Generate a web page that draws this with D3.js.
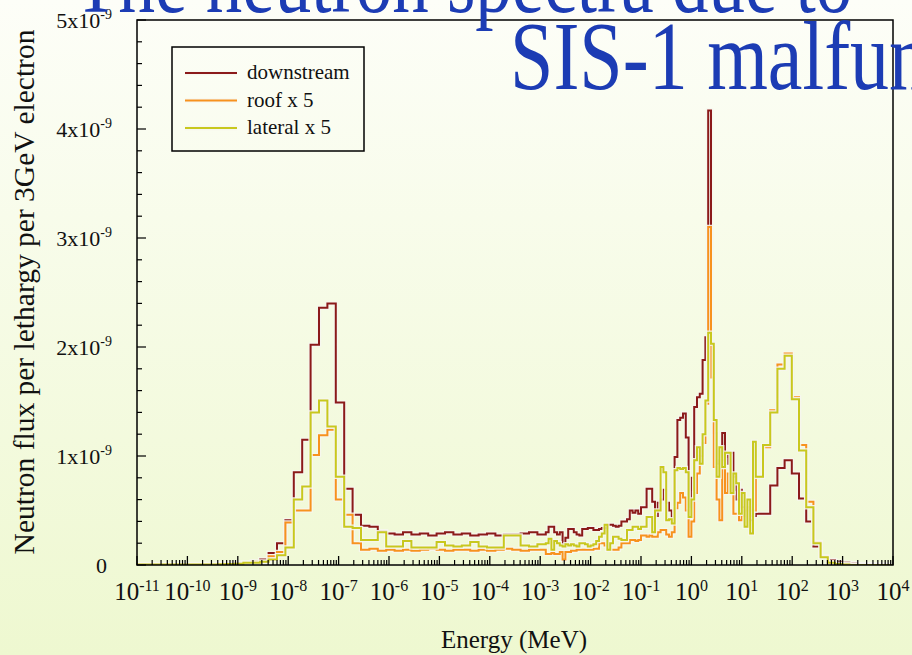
<!DOCTYPE html>
<html>
<head>
<meta charset="utf-8">
<title>Neutron spectra</title>
<script src="https://cdn.jsdelivr.net/npm/d3@7"></script>
<style>
  body { margin: 0; }
  svg { display: block; font-family: "Liberation Serif", "Times New Roman", serif; }
</style>
</head>
<body>
<svg id="chart" width="912" height="655"></svg>
<script>
// energy bins, log10(E/MeV). first low bin starts at -11
var lowStart = -10.889, lowStep = 1 / 6;
var fineStart = -2.889, fineStep = 1 / 18;
var highStart = 1.278, highStep = 1 / 7;

// flux per lethargy, units of 1e-9
var downLow = [0.01, 0.01,0.01,0.01,0.01,0.01,0.01,0.01,0.01, 0.01,0.015,0.015,0.02,
  0.02,0.03,0.05,0.11,0.20,0.41,0.85,1.15,2.02,2.36,2.40,1.49,0.70,0.46,0.36,0.35,0.31,
  0.29,0.28,0.30,0.28,0.29,0.27,0.29,0.30,0.28,0.29,0.27,0.28,0.29,0.27,0.28,0.28,0.29,0.30,0.28];
var roofLow = [0.005, 0.005,0.005,0.005,0.005,0.005,0.005,0.005,0.005, 0.005,0.008,0.01,0.015,
  0.02,0.03,0.03,0.08,0.12,0.39,0.50,0.50,1.01,1.19,1.24,0.60,0.46,0.20,0.14,0.15,0.13,
  0.14,0.13,0.14,0.13,0.14,0.15,0.14,0.13,0.14,0.14,0.13,0.14,0.13,0.14,0.15,0.14,0.13,0.14,0.14];
var latLow = [0.005, 0.005,0.005,0.005,0.005,0.005,0.005,0.005,0.005, 0.005,0.008,0.01,0.012,
  0.02,0.02,0.03,0.05,0.09,0.16,0.60,0.72,1.40,1.51,1.27,0.81,0.35,0.34,0.23,0.23,0.30,
  0.17,0.17,0.22,0.16,0.16,0.16,0.21,0.18,0.17,0.18,0.21,0.17,0.16,0.16,0.27,0.27,0.18,0.17,0.19];

var downFine = [0.30,0.35,0.35,0.30,0.28,0.30,0.20,0.25,0.33,0.33,
  0.30,0.28,0.27,0.33,0.33,0.34,0.34,0.32,0.32,0.33,
  0.34,0.34,0.37,0.37,0.36,0.35,0.36,0.40,0.40,0.42,
  0.50,0.48,0.50,0.47,0.53,0.53,0.70,0.70,0.58,0.45,
  0.57,0.60,0.69,0.57,0.50,0.44,0.99,1.33,1.35,1.39,
  1.17,0.50,0.80,1.45,1.54,1.57,1.88,2.09,4.17,2.00,
  1.21,0.93,0.96,1.21,0.93,1.03,1.03,0.81,0.60,0.69,
  0.53,0.44,0.50,0.41,0.45];
var roofFine = [0.10,0.10,0.11,0.10,0.10,0.12,0.05,0.12,0.12,0.13,
  0.13,0.14,0.14,0.14,0.14,0.14,0.14,0.15,0.15,0.20,
  0.20,0.18,0.14,0.14,0.14,0.14,0.16,0.20,0.20,0.20,
  0.23,0.23,0.22,0.23,0.27,0.27,0.26,0.27,0.26,0.26,
  0.30,0.32,0.32,0.28,0.26,0.30,0.52,0.57,0.66,0.62,
  0.50,0.26,0.40,0.66,0.84,1.00,1.12,1.48,3.10,1.72,
  0.90,0.60,0.41,0.96,0.66,0.84,0.66,0.47,0.47,0.41,
  0.45,0.50,0.53,0.45,0.50];
var latFine = [0.20,0.24,0.14,0.22,0.20,0.18,0.17,0.19,0.18,0.19,
  0.18,0.17,0.20,0.20,0.19,0.17,0.18,0.19,0.22,0.26,
  0.29,0.37,0.14,0.20,0.26,0.26,0.24,0.23,0.23,0.32,
  0.32,0.35,0.35,0.33,0.35,0.35,0.44,0.44,0.30,0.50,
  0.50,0.90,0.85,0.41,0.42,0.38,0.87,0.89,0.88,0.89,
  0.85,0.44,0.60,0.96,1.08,0.93,1.20,1.51,2.13,2.03,
  1.33,0.81,1.08,0.90,1.03,1.03,0.66,0.84,0.75,0.47,
  0.66,0.35,0.60,0.29,1.13];

var downHigh = [0.47,0.47,0.73,0.89,0.96,0.84,0.61,0.40,0.17,0.076,0.046,0.03,0.02,0.015,0.01,0.01,0.005,0.005,0.005];
var roofHigh = [0.81,1.08,1.42,1.84,1.94,1.54,1.10,0.58,0.21,0.076,0.03,0.01,0.005,0.005,0,0,0,0,0];
var latHigh  = [0.81,1.10,1.40,1.80,1.92,1.52,1.05,0.53,0.20,0.07,0.02,0.01,0.005,0,0,0,0,0,0];

var seriesNames = ["downstream", "roof x 5", "lateral x 5"];
var seriesColors = ["#8b1a1a", "#f7921e", "#c8c81e"];
var xTickExp = [-11,-10,-9,-8,-7,-6,-5,-4,-3,-2,-1,0,1,2,3,4];
var yTickVals = [0, 1, 2, 3, 4, 5];

function bins(low, fine, high) {
  var out = [{e: -11, v: low[0]}];
  for (var i = 1; i < low.length; i++) out.push({e: lowStart + (i - 1) * lowStep, v: low[i]});
  fine.forEach(function(v, i) { out.push({e: fineStart + i * fineStep, v: v}); });
  high.forEach(function(v, i) { out.push({e: highStart + i * highStep, v: v}); });
  out.push({e: 4, v: high[high.length - 1]});
  return out;
}
var series = [bins(downLow, downFine, downHigh), bins(roofLow, roofFine, roofHigh), bins(latLow, latFine, latHigh)];

var svg = d3.select("#chart");
var L = 137, R = 893, T = 20, B = 565;

var defs = svg.append("defs");
var grad = defs.append("linearGradient").attr("id", "bg").attr("x1", 0).attr("y1", 0).attr("x2", 0).attr("y2", 1);
grad.append("stop").attr("offset", "0%").attr("stop-color", "#fdfef8");
grad.append("stop").attr("offset", "100%").attr("stop-color", "#eef8d0");
defs.append("clipPath").attr("id", "plot").append("rect")
  .attr("x", L).attr("y", T - 2).attr("width", R - L).attr("height", B - T + 2);

svg.append("rect").attr("width", 912).attr("height", 655).attr("fill", "url(#bg)");

var x = d3.scaleLog().domain([1e-11, 1e4]).range([L, R]);
var y = d3.scaleLinear().domain([0, 5e-9]).range([B, T]);

var line = d3.line()
  .x(function(d) { return x(Math.pow(10, d.e)); })
  .y(function(d) { return y(d.v * 1e-9); })
  .curve(d3.curveStepAfter);

var g = svg.append("g").attr("clip-path", "url(#plot)");
series.forEach(function(s, i) {
  g.append("path").attr("d", line(s)).attr("fill", "none")
    .attr("stroke", "#f6f6ee").attr("stroke-opacity", 0.9).attr("stroke-width", 4.5);
  g.append("path").attr("d", line(s)).attr("fill", "none")
    .attr("stroke", seriesColors[i]).attr("stroke-width", 2);
});

// axes
var ax = svg.append("g").attr("stroke", "#000");
xTickExp.forEach(function(p) {
  ax.append("line").attr("x1", x(Math.pow(10, p))).attr("x2", x(Math.pow(10, p)))
    .attr("y1", B).attr("y2", B - 9).attr("stroke-width", 1.3);
  if (p < 4) {
    for (var k = 2; k <= 9; k++) {
      var xv = x(k * Math.pow(10, p));
      ax.append("line").attr("x1", xv).attr("x2", xv).attr("y1", B).attr("y2", B - 5).attr("stroke-width", 1.2);
    }
  }
});
y.ticks(25).forEach(function(t) {
  var major = Math.abs(t * 1e9 - Math.round(t * 1e9)) < 1e-6;
  ax.append("line").attr("x1", L).attr("x2", L + (major ? 9 : 5))
    .attr("y1", y(t)).attr("y2", y(t)).attr("stroke-width", 1.2);
});
svg.append("rect").attr("x", L).attr("y", T).attr("width", R - L).attr("height", B - T)
  .attr("fill", "none").attr("stroke", "#000").attr("stroke-width", 1.5);

// tick labels
xTickExp.forEach(function(p) {
  var t = svg.append("text").attr("x", x(Math.pow(10, p))).attr("y", 600)
    .attr("text-anchor", "middle").attr("font-size", 25).attr("fill", "#111");
  t.append("tspan").text("10");
  t.append("tspan").attr("font-size", 16).attr("dy", -9).text(String(p));
});
yTickVals.forEach(function(v) {
  var t = svg.append("text").attr("x", v === 0 ? 107 : 112).attr("y", y(v * 1e-9) + 8)
    .attr("text-anchor", "end").attr("font-size", 22).attr("fill", "#111");
  if (v === 0) { t.text("0"); return; }
  t.append("tspan").text(v + "x10");
  t.append("tspan").attr("font-size", 14).attr("dy", -9).text("-9");
});

svg.append("text").attr("x", 514).attr("y", 648).attr("text-anchor", "middle")
  .attr("font-size", 25).attr("fill", "#111").text("Energy (MeV)");
svg.append("text").attr("transform", "translate(34,292) rotate(-90)").attr("text-anchor", "middle")
  .attr("font-size", 29.5).attr("fill", "#111").text("Neutron flux per lethargy per 3GeV electron");

// legend
svg.append("rect").attr("x", 172).attr("y", 47).attr("width", 192).attr("height", 104)
  .attr("fill", "none").attr("stroke", "#000").attr("stroke-width", 1.5);
seriesNames.forEach(function(n, i) {
  var ly = 73 + i * 27.5;
  svg.append("line").attr("x1", 185).attr("x2", 237).attr("y1", ly).attr("y2", ly)
    .attr("stroke", "#f6f6ee").attr("stroke-opacity", 0.9).attr("stroke-width", 4.5);
  svg.append("line").attr("x1", 185).attr("x2", 237).attr("y1", ly).attr("y2", ly)
    .attr("stroke", seriesColors[i]).attr("stroke-width", 2);
  svg.append("text").attr("x", 247).attr("y", ly + 6).attr("font-size", 21).attr("fill", "#111").text(n);
});

// slide title (cut off by the page edge), slightly stretched vertically as in the slide
svg.append("text").attr("transform", "translate(74,12) scale(1,1.25)")
  .attr("font-size", 73).attr("fill", "#1c3cb4").text("The neutron spectra due to");
svg.append("text").attr("transform", "translate(510,89) scale(1,1.25)")
  .attr("font-size", 78).attr("fill", "#1c3cb4").text("SIS-1 malfunction");
</script>
</body>
</html>
